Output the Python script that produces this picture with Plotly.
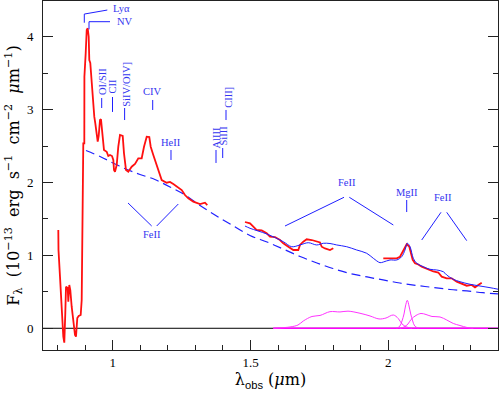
import plotly.graph_objects as go

# ---------------- data ----------------
spec1_lam = [0.8026, 0.8033, 0.8088, 0.8124, 0.8160, 0.8208, 0.8244, 0.8280, 0.8306, 0.8367,
             0.8389, 0.8425, 0.8462, 0.8512, 0.8570, 0.8632, 0.8668, 0.8716, 0.8766, 0.8839,
             0.8875, 0.8897, 0.8922, 0.8933, 0.8970, 0.8973, 0.9020, 0.9057, 0.9093, 0.9129,
             0.9151, 0.9187, 0.9224, 0.9260, 0.9296, 0.9332, 0.9369, 0.9419, 0.9456, 0.9492,
             0.9539, 0.9575, 0.9612, 0.9659, 0.9684, 0.9782, 0.9840, 0.9902, 0.9975, 1.0022,
             1.0047, 1.0083, 1.0145, 1.0203, 1.0265, 1.0363, 1.0410, 1.0483, 1.0566, 1.0689,
             1.0809, 1.0929, 1.1052, 1.1136, 1.1234, 1.1328, 1.1379, 1.1473, 1.1535, 1.1596,
             1.1691, 1.1778, 1.1959, 1.2079, 1.2199, 1.2322, 1.2504, 1.2623, 1.2743, 1.2924,
             1.3168, 1.3349, 1.3432]
spec1_flux = [1.348, 1.074, 0.708, 0.525, 0.210, -0.115, -0.198, 0.210, 0.571, 0.553,
              0.365, 0.594, 0.525, 0.296, 0.114, -0.092, -0.115, 0.141, 0.169, 0.182,
              0.388, 1.074, 1.531, 2.538, 2.538, 3.451, 3.772, 4.092, 4.115, 4.000,
              3.680, 3.639, 3.451, 3.269, 3.040, 2.903, 2.812, 2.675, 2.560, 2.638,
              2.857, 2.867, 2.748, 2.583, 2.446, 2.422, 2.363, 2.377, 2.363, 2.309,
              2.171, 2.148, 2.240, 2.491, 2.652, 2.638, 2.400, 2.171, 2.148, 2.217,
              2.254, 2.332, 2.332, 2.491, 2.628, 2.624, 2.491, 2.377, 2.309, 2.217,
              2.126, 2.034, 1.997, 2.007, 1.979, 1.942, 1.897, 1.828, 1.783, 1.737,
              1.705, 1.723, 1.691]
spec2_lam = [1.4800, 1.4982, 1.5102, 1.5225, 1.5406, 1.5588, 1.5707, 1.5889, 1.6070, 1.6190,
             1.6371, 1.6553, 1.6734, 1.6796, 1.6916, 1.7039, 1.7221, 1.7402, 1.7522, 1.7583,
             1.7703, 1.7884, 1.8004]
spec2_flux = [1.458, 1.440, 1.394, 1.348, 1.342, 1.303, 1.256, 1.252, 1.211, 1.166,
              1.119, 1.074, 1.074, 1.143, 1.188, 1.221, 1.211, 1.188, 1.177, 1.119,
              1.095, 1.074, 1.097]
spec3_lam = [1.9818, 2.0123, 2.0305, 2.0424, 2.0486, 2.0544, 2.0606, 2.0667, 2.0762, 2.0813,
             2.0885, 2.0969, 2.1088, 2.1212, 2.1332, 2.1451, 2.1633, 2.1814, 2.1937, 2.2119,
             2.2300, 2.2482, 2.2663, 2.2845, 2.3026, 2.3146, 2.3265, 2.3389]
spec3_flux = [0.960, 0.960, 0.960, 0.982, 1.029, 1.074, 1.119, 1.152, 1.119, 1.029,
              0.937, 0.892, 0.875, 0.845, 0.827, 0.800, 0.779, 0.765, 0.708, 0.686,
              0.686, 0.639, 0.617, 0.584, 0.594, 0.562, 0.594, 0.625]

model_lam = [1.4800, 1.4982, 1.5588, 1.6190, 1.6495, 1.6796, 1.7097, 1.7402, 1.7641, 1.7884,
             1.8128, 1.8490, 1.8853, 1.9216, 1.9456, 1.9699, 1.9818, 2.0062, 2.0305, 2.0486,
             2.0606, 2.0689, 2.0787, 2.0907, 2.1030, 2.1270, 2.1513, 2.1756, 2.1996, 2.2119,
             2.2358, 2.2601, 2.2964, 2.3327, 2.3690, 2.3992]
model_flux = [1.403, 1.372, 1.294, 1.188, 1.119, 1.143, 1.174, 1.143, 1.166, 1.163,
              1.143, 1.119, 1.074, 1.029, 0.960, 0.900, 0.909, 0.937, 0.937, 0.982,
              1.074, 1.166, 1.119, 0.960, 0.892, 0.845, 0.809, 0.800, 0.776, 0.731,
              0.672, 0.639, 0.604, 0.580, 0.557, 0.535]

cont_lam = [0.903, 0.954, 1.001, 1.052, 1.099, 1.153, 1.208, 1.262, 1.317, 1.371,
            1.426, 1.498, 1.560, 1.618, 1.680, 1.741, 1.799, 1.861, 1.923, 1.981,
            2.042, 2.104, 2.162, 2.224, 2.285, 2.343, 2.398]
cont_flux = [2.439, 2.357, 2.268, 2.178, 2.110, 2.041, 1.938, 1.829, 1.684, 1.554,
             1.431, 1.273, 1.184, 1.088, 0.985, 0.896, 0.820, 0.752, 0.704, 0.663,
             0.621, 0.587, 0.560, 0.532, 0.512, 0.488, 0.471]

fe1_lam = [1.5827, 1.6433, 1.6723, 1.6916, 1.7231, 1.7522, 1.7884, 1.8247, 1.8538, 1.8973,
           1.9336, 1.9662, 1.9916, 2.0181, 2.0363, 2.0497, 2.0667, 2.0860]
fe1_flux = [0.0, 0.018, 0.045, 0.100, 0.162, 0.176, 0.228, 0.224, 0.235, 0.206,
            0.169, 0.128, 0.141, 0.182, 0.134, 0.059, 0.018, 0.0]
fe2_lam = [2.0424, 2.0570, 2.0715, 2.0824, 2.1005, 2.1186, 2.1368, 2.1585, 2.1876, 2.2119,
           2.2358, 2.2601, 2.2855, 2.3084]
fe2_flux = [0.0, 0.018, 0.059, 0.121, 0.176, 0.203, 0.189, 0.162, 0.155, 0.114,
            0.066, 0.038, 0.011, 0.0]
mg_lam = [2.0305, 2.0424, 2.0497, 2.0570, 2.0624, 2.0689, 2.0751, 2.0813, 2.0885, 2.0958, 2.1088]
mg_flux = [0.0, 0.032, 0.100, 0.196, 0.306, 0.384, 0.306, 0.196, 0.100, 0.032, 0.0]
comp_zero_lam = [1.5827, 2.3984]

x_range = [0.7471, 2.3980]
y_range = [-0.298, 4.490]

labels_vert = [
    ("OI/SII", 0.9612, 3.378, 0.9601, 3.159, 3.022),
    ("CII", 0.9993, 3.323, 0.9993, 3.173, 2.968),
    ("SiIV/OIV]", 1.0475, 3.351, 1.0432, 3.022, 2.857),
    ("AlIII", 1.3766, 2.610, 1.3748, 2.446, 2.268),
    ("SiIII", 1.4020, 2.638, 1.3991, 2.473, 2.336),
    ("CIII]", 1.4202, 3.168, 1.4111, 2.995, 2.857),
]
labels_horiz = [
    ("CIV", 1.1444, 3.242, 1.1451, 3.132, 2.995),
    ("HeII", 1.2133, 2.542, 1.2115, 2.446, 2.309),
    ("MgII", 2.0678, 1.860, 2.0667, 1.760, 1.595),
]
feii_groups = [
    ((1.1429, 1.291), (1.0555, 1.719, 1.1415, 1.403), (1.1596, 1.403, 1.2380, 1.705)),
    ((1.8501, 2.000), (1.6252, 1.403, 1.8393, 1.797), (1.8585, 1.797, 2.0182, 1.417)),
    ((2.1984, 1.794), (2.1212, 1.211, 2.1912, 1.591), (2.2119, 1.591, 2.2845, 1.202)),
]

# ---------------- figure ----------------
BLUE = "#1f1fff"
TXT = "#3535f0"
SERIF = "Liberation Serif, DejaVu Serif, serif"
WIDE = "DejaVu Serif, serif"

fig = go.Figure()

fig.add_trace(go.Scatter(x=x_range, y=[0, 0], mode="lines",
                         line=dict(color="black", width=1), hoverinfo="skip"))
fig.add_trace(go.Scatter(x=comp_zero_lam, y=[0, 0], mode="lines",
                         line=dict(color="#ff00ff", width=1.5), hoverinfo="skip"))
for lx, ly in [(fe1_lam, fe1_flux), (fe2_lam, fe2_flux), (mg_lam, mg_flux)]:
    fig.add_trace(go.Scatter(x=lx, y=ly, mode="lines", line_shape="spline",
                             line=dict(color="#ff33ff", width=1), hoverinfo="skip"))
fig.add_trace(go.Scatter(x=cont_lam, y=cont_flux, mode="lines", line_shape="spline",
                         line=dict(color=BLUE, width=1.2, dash="9px,5px")))
for lx, ly in [(spec1_lam, spec1_flux), (spec2_lam, spec2_flux), (spec3_lam, spec3_flux)]:
    fig.add_trace(go.Scatter(x=lx, y=ly, mode="lines",
                             line=dict(color="#ff1010", width=1.8)))
fig.add_trace(go.Scatter(x=model_lam, y=model_flux, mode="lines", line_shape="spline",
                         line=dict(color=BLUE, width=1)))

shapes = []
annotations = []

def seg(x0, y0, x1, y1):
    shapes.append(dict(type="line", xref="x", yref="y", x0=x0, y0=y0, x1=x1, y1=y1,
                       line=dict(color=BLUE, width=1)))

def txt(s, x, y, angle=0, size=10.5, xanchor="center"):
    annotations.append(dict(text=s, x=x, y=y, xref="x", yref="y", showarrow=False,
                            textangle=angle, font=dict(family=SERIF, size=size, color=TXT),
                            xanchor=xanchor, yanchor="middle"))

# Ly alpha and NV brackets with labels (left-anchored)
seg(0.8970, 4.192, 0.8970, 4.311)
seg(0.8970, 4.311, 0.9804, 4.366)
txt("Lyα", 0.9920, 4.394, xanchor="left")
seg(0.9140, 4.101, 0.9140, 4.206)
seg(0.9140, 4.206, 0.9902, 4.206)
txt("NV", 1.0080, 4.208, xanchor="left")

for s, tx, ty, lx, f0, f1 in labels_vert:
    txt(s, tx, ty, angle=-90)
    seg(lx, f0, lx, f1)
for s, tx, ty, lx, f0, f1 in labels_horiz:
    txt(s, tx, ty)
    seg(lx, f0, lx, f1)
for (tx, ty), l1, l2 in feii_groups:
    txt("FeII", tx, ty)
    seg(*l1)
    seg(*l2)

fig.update_layout(
    width=499, height=396,
    margin=dict(l=43, r=1, t=1, b=46),
    plot_bgcolor="white", paper_bgcolor="white",
    showlegend=False,
    shapes=shapes, annotations=annotations,
    font=dict(family=SERIF, size=13, color="black"),
)
fig.update_xaxes(
    range=x_range, showgrid=False, zeroline=False,
    showline=True, linecolor="#222", linewidth=1, mirror=True,
    ticks="inside", ticklen=10, tickcolor="#222",
    tickmode="array", tickvals=[1, 1.5, 2], ticktext=["1", "1.5", "2"],
    minor=dict(ticks="inside", ticklen=5, tickcolor="#222", dtick=0.1, tick0=0, showgrid=False),
    tickfont=dict(family=SERIF, size=13),
    title=dict(text="λ<sub><span style='font-family:Liberation Sans'>obs</span></sub> (<i>μ</i>m)",
               font=dict(family=WIDE, size=16), standoff=5),
)
fig.update_yaxes(
    range=y_range, showgrid=False, zeroline=False,
    showline=True, linecolor="#222", linewidth=1, mirror="ticks",
    ticks="inside", ticklen=10, tickcolor="#222",
    tickmode="array", tickvals=[0, 1, 2, 3, 4],
    minor=dict(ticks="inside", ticklen=5, tickcolor="#222", dtick=0.5, tick0=0, showgrid=False),
    tickfont=dict(family=SERIF, size=13),
    ticklabelstandoff=6,
    title=dict(text="F<sub>λ</sub>  (10<sup>−13</sup>  erg  s<sup>−1</sup>  cm<sup>−2</sup>  <i>μ</i>m<sup>−1</sup>)",
               font=dict(family=WIDE, size=16), standoff=3),
)

fig.write_html("out.html", config={"displayModeBar": False},
               post_script="document.body.style.margin='0';document.body.style.padding='0';")
